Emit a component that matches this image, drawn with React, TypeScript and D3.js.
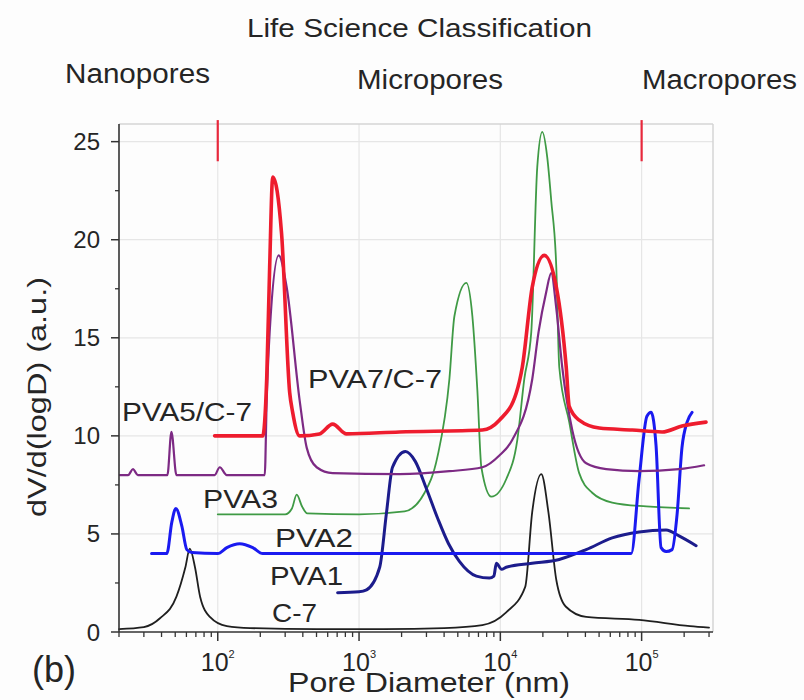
import React from "react";
import * as d3 from "d3";

// ---------- data (pore diameter in nm, dV/d(logD) in a.u.) ----------
const C7_D = [20, 30, 39, 51, 59, 63.4, 69, 75, 88, 116, 170, 500, 1500, 4000, 7460, 11000, 15000, 16800, 19500, 21900, 24900, 29000, 40500, 96000, 220000, 300000];
const C7_V = [0.15, 0.25, 0.7, 1.8, 3.3, 4.25, 3.3, 1.8, 0.77, 0.3, 0.2, 0.15, 0.15, 0.2, 0.35, 1.0, 2.3, 6.1, 8.05, 6.1, 2.65, 1.3, 0.77, 0.62, 0.3, 0.22];

const PVA1_D = [705, 1000, 1130, 1400, 1565, 1725, 2130, 2500, 3000, 3600, 4300, 5130, 6770, 8360, 9000, 9370, 10200, 11000, 16800, 26100, 40500, 61900, 96000, 149000, 184000, 243000];
const PVA1_V = [2.0, 2.05, 2.15, 3.3, 6.1, 8.4, 9.2, 8.7, 7.3, 5.8, 4.5, 3.6, 2.85, 2.75, 2.85, 3.5, 3.2, 3.3, 3.5, 3.7, 4.2, 4.8, 5.1, 5.2, 4.9, 4.4];

const PVA2_D = [34, 43.6, 47.3, 50.5, 55.7, 60.4, 65.5, 100, 116, 143, 177, 208, 1000, 10000, 84400, 96000, 109000, 116700, 126500, 137300, 149000, 164300, 178200, 193000, 209800, 227500];
const PVA2_V = [4.0, 4.0, 5.6, 6.3, 5.4, 4.2, 4.05, 4.0, 4.3, 4.5, 4.3, 4.0, 4.0, 4.0, 4.0, 7.8, 11.0, 11.2, 9.5, 4.3, 4.1, 4.2, 6.0, 9.4, 10.7, 11.2];

const PVA3_D = [100, 300, 335, 362, 395, 430, 1000, 2100, 2910, 3580, 4360, 4730, 5750, 6340, 6880, 7340, 8640, 11020, 13190, 14780, 16560, 18250, 19810, 21480, 22920, 24890, 26130, 30740, 36150, 44680, 61910, 107700, 216700];
const PVA3_V = [6.0, 6.0, 6.3, 7.0, 6.4, 6.05, 6.0, 6.15, 7.1, 8.9, 12.9, 16.1, 17.8, 16.1, 12.3, 8.4, 6.9, 7.8, 9.8, 12.9, 15.3, 23.7, 25.5, 24.2, 22.0, 18.6, 13.5, 10.7, 8.1, 7.1, 6.6, 6.4, 6.3];

const PVA5_D = [20.3, 23.2, 25.1, 27.2, 44, 47, 51, 95, 103.3, 115.8, 215, 222, 233, 270, 307, 380, 426, 501, 650, 1930, 4360, 7460, 9840, 12160, 16830, 18650, 21070, 22920, 24890, 27420, 32270, 40550, 56130, 96000, 184000, 276700];
const PVA5_V = [8.0, 8.0, 8.3, 8.0, 8.0, 10.2, 8.0, 8.0, 8.4, 8.0, 8.0, 11.8, 15.3, 19.2, 17.6, 11.8, 9.4, 8.4, 8.1, 8.05, 8.2, 8.4, 9.0, 9.8, 12.9, 15.3, 17.3, 18.3, 16.5, 13.5, 10.3, 8.6, 8.3, 8.2, 8.3, 8.5];

const PVA7_D = [95, 208, 222, 233, 245, 283, 323, 339, 380, 525, 650, 815, 1930, 7460, 9840, 12980, 14300, 16830, 20460, 24890, 29260, 30740, 36150, 50080, 85730, 139600, 193000, 285700];
const PVA7_V = [10.0, 10.0, 12.9, 18.6, 23.2, 20.3, 12.2, 11.2, 10.0, 10.1, 10.6, 10.1, 10.2, 10.3, 10.8, 12.2, 13.5, 17.6, 19.2, 17.6, 13.5, 11.5, 10.8, 10.4, 10.3, 10.2, 10.5, 10.7];

const SERIES_NAMES = ["C-7", "PVA3", "PVA1", "PVA2", "PVA5/C-7", "PVA7/C-7"];
const X_TICK_EXP = [2, 3, 4, 5];
const Y_TICKS = [0, 5, 10, 15, 20, 25];
const MARKER_D = [100, 100000];
const MARKER_RANGE = [24.0, 26.1];
const CLASS_TITLE = "Life Science Classification";
const CLASS_NAMES = ["Nanopores", "Micropores", "Macropores"];

// ---------- styling / layout ----------
const FONT = "'Liberation Sans', Arial, Helvetica, sans-serif";
const TEXT = "#252525";
const STYLE: Record<string, { color: string; width: number }> = {
  "C-7": { color: "#1f1f1f", width: 1.8 },
  PVA1: { color: "#1c1c8c", width: 3 },
  PVA2: { color: "#1a1af0", width: 3 },
  PVA3: { color: "#3f9a45", width: 1.8 },
  "PVA5/C-7": { color: "#7d2a84", width: 2.2 },
  "PVA7/C-7": { color: "#ee1c2e", width: 3.6 },
};
const LABEL_POS: Record<string, [number, number, number]> = {
  "PVA5/C-7": [122, 421, 130],
  "PVA7/C-7": [308, 388, 134],
  PVA3: [203, 508, 75],
  PVA2: [275, 547, 78],
  PVA1: [270, 585, 73],
  "C-7": [272, 622, 45],
};
const CLASS_POS: [number, number, number][] = [
  [65, 83, 145],
  [357, 89, 146],
  [642, 89, 155],
];

export default function App() {
  const x = d3.scaleLog().domain([20, 3.2e5]).range([119, 713]);
  const y = d3.scaleLinear().domain([0, 25.9]).range([632, 124]);
  const [x0, x1] = x.range();
  const [yb, yt] = y.range();

  const dataMap: Record<string, [number, number][]> = {
    "C-7": C7_D.map((d, i) => [d, C7_V[i]]),
    PVA1: PVA1_D.map((d, i) => [d, PVA1_V[i]]),
    PVA2: PVA2_D.map((d, i) => [d, PVA2_V[i]]),
    PVA3: PVA3_D.map((d, i) => [d, PVA3_V[i]]),
    "PVA5/C-7": PVA5_D.map((d, i) => [d, PVA5_V[i]]),
    "PVA7/C-7": PVA7_D.map((d, i) => [d, PVA7_V[i]]),
  };

  const line = d3
    .line<[number, number]>()
    .x((d) => x(d[0]))
    .y((d) => y(d[1]))
    .curve(d3.curveMonotoneX);

  const majorX = X_TICK_EXP.map((e) => Math.pow(10, e));
  const minorX: number[] = [];
  for (let e = 1; e <= 5; e++) {
    for (let m = 2; m <= 9; m++) {
      const v = m * Math.pow(10, e);
      if (v >= 20 && v <= 3.2e5) minorX.push(v);
    }
  }
  const minorY = [2.5, 7.5, 12.5, 17.5, 22.5];

  return (
    <svg
      width={804}
      height={700}
      style={{ position: "absolute", left: 0, top: 0, background: "#fff" }}
      fontFamily={FONT}
    >
      <rect x={0} y={0} width={804} height={700} fill="#fdfdfd" />
      {/* grid */}
      {majorX.map((v) => (
        <line key={"gx" + v} x1={x(v)} x2={x(v)} y1={yt} y2={yb} stroke="#e6e6e6" strokeWidth={1.2} />
      ))}
      {Y_TICKS.filter((v) => v > 0).map((v) => (
        <line key={"gy" + v} x1={x0} x2={x1} y1={y(v)} y2={y(v)} stroke="#e6e6e6" strokeWidth={1.2} />
      ))}
      {/* frame top/right */}
      <line x1={x0} x2={x1} y1={yt} y2={yt} stroke="#d4d4d4" strokeWidth={1.5} />
      <line x1={x1} x2={x1} y1={yt} y2={yb} stroke="#d4d4d4" strokeWidth={1.5} />

      {/* classification markers */}
      {MARKER_D.map((d) => (
        <line
          key={"mk" + d}
          x1={x(d)}
          x2={x(d)}
          y1={y(MARKER_RANGE[1])}
          y2={y(MARKER_RANGE[0])}
          stroke="#e8283c"
          strokeWidth={2.2}
        />
      ))}

      {/* curves */}
      {SERIES_NAMES.map((name) => (
        <path
          key={name}
          d={line(dataMap[name]) || ""}
          fill="none"
          stroke={STYLE[name].color}
          strokeWidth={STYLE[name].width}
          strokeLinejoin="round"
          strokeLinecap="round"
        />
      ))}

      {/* axes */}
      <line x1={x0} x2={x1} y1={yb} y2={yb} stroke="#333" strokeWidth={1.6} />
      <line x1={x0} x2={x0} y1={yt} y2={yb} stroke="#333" strokeWidth={1.6} />
      {majorX.map((v) => (
        <line key={"tx" + v} x1={x(v)} x2={x(v)} y1={yb} y2={yb + 9} stroke="#333" strokeWidth={1.5} />
      ))}
      {minorX.map((v) => (
        <line key={"mx" + v} x1={x(v)} x2={x(v)} y1={yb} y2={yb + 5} stroke="#333" strokeWidth={1.3} />
      ))}
      {Y_TICKS.map((v) => (
        <line key={"ty" + v} x1={x0 - 8} x2={x0} y1={y(v)} y2={y(v)} stroke="#333" strokeWidth={1.5} />
      ))}
      {minorY.map((v) => (
        <line key={"my" + v} x1={x0 - 4} x2={x0} y1={y(v)} y2={y(v)} stroke="#333" strokeWidth={1.3} />
      ))}

      {/* tick labels */}
      {Y_TICKS.map((v) => (
        <text key={"ly" + v} x={100} y={y(v) + 8.5} textAnchor="end" fontSize={24} fill={TEXT}>
          {v}
        </text>
      ))}
      {X_TICK_EXP.map((e) => (
        <text key={"lx" + e} x={x(Math.pow(10, e))} y={671} textAnchor="middle" fontSize={25} fill={TEXT}>
          <tspan>10</tspan>
          <tspan fontSize={11} dy={-13}>
            {e}
          </tspan>
        </text>
      ))}

      {/* axis titles */}
      <text x={288} y={692} fontSize={27} fill={TEXT} textLength={282} lengthAdjust="spacingAndGlyphs">
        Pore Diameter (nm)
      </text>
      <text
        transform="translate(46,397) rotate(-90)"
        textAnchor="middle"
        fontSize={25}
        fill={TEXT}
        textLength={240}
        lengthAdjust="spacingAndGlyphs"
      >
        dV/d(logD)  (a.u.)
      </text>
      <text x={32} y={682} fontSize={36} fill={TEXT}>
        (b)
      </text>

      {/* series labels */}
      {SERIES_NAMES.map((name) => {
        const [lx, ly, lw] = LABEL_POS[name];
        return (
          <text
            key={"lab" + name}
            x={lx}
            y={ly}
            fontSize={25}
            fill={TEXT}
            textLength={lw}
            lengthAdjust="spacingAndGlyphs"
          >
            {name}
          </text>
        );
      })}

      {/* classification header */}
      <text x={247} y={37} fontSize={25} fill={TEXT} textLength={345} lengthAdjust="spacingAndGlyphs">
        {CLASS_TITLE}
      </text>
      {CLASS_NAMES.map((n, i) => {
        const [cx, cy, cw] = CLASS_POS[i];
        return (
          <text key={n} x={cx} y={cy} fontSize={27} fill={TEXT} textLength={cw} lengthAdjust="spacingAndGlyphs">
            {n}
          </text>
        );
      })}
    </svg>
  );
}
